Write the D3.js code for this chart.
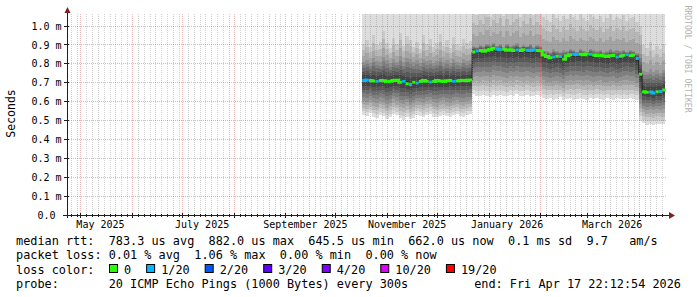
<!DOCTYPE html>
<html><head><meta charset="utf-8">
<script src="https://cdn.jsdelivr.net/npm/d3@7"></script>
<style>
html,body{margin:0;padding:0;background:#fff;}
svg text{font-family:"DejaVu Sans Mono",monospace;white-space:pre;fill:#000;}
</style></head><body>
<svg id="c" width="697" height="297" xmlns="http://www.w3.org/2000/svg" xml:space="preserve"></svg>
<script>
// ---------------- data ----------------
const END_TIME = Date.UTC(2026, 3, 17, 22, 12, 54);
const SPAN_DAYS = 360;
const DATA_START = Date.UTC(2025, 9, 17);
const STEP_DAYS = 2;

const medianUs = [712,714,711,709,708,712,710,705,708,711,713,702,708,695,690,703,699,706,711,708,704,707,712,709,706,710,712,708,709,712,713,710,714,
 862,868,870,866,872,876,882,878,874,877,872,875,870,873,871,874,872,870,873,871,869,
 846,838,832,836,840,838,824,842,848,850,849,851,848,852,850,846,843,845,841,838,842,844,836,840,845,848,843,846,828,
 745,652,650,651,646,652,653,662];
const lossCount = [1,1,0,0,1,0,0,0,0,0,0,0,1,0,1,0,1,0,0,0,1,0,0,0,0,0,0,1,0,0,0,0,0,
 0,1,0,0,0,0,0,1,1,0,0,0,0,1,0,0,1,1,1,0,0,
 0,0,0,1,0,1,0,0,0,1,1,0,0,0,1,0,0,0,0,0,0,0,1,0,0,1,0,0,1,
 0,0,0,1,1,0,1,0];
const pingMinUs = [530,525,538,520,515,528,522,510,518,535,527,512,505,520,508,515,530,524,518,527,533,521,516,525,531,522,519,528,534,526,520,529,532,
 640,632,628,635,630,626,633,629,636,631,627,634,630,638,632,629,635,631,628,633,630,
 618,612,620,610,615,622,608,614,619,611,616,621,613,609,617,612,620,615,611,618,614,610,619,613,616,612,618,615,611,
 500,485,478,482,476,484,480,479];
const ping5Us = [605,598,610,596,592,604,600,588,594,612,603,590,585,596,580,590,602,598,594,604,608,596,592,601,606,598,595,603,608,600,597,605,607,
 728,735,732,738,734,728,740,733,737,730,726,735,729,738,732,728,736,731,726,734,730,
 712,706,702,708,710,704,696,709,714,711,716,713,708,715,711,706,710,713,705,703,708,711,702,707,712,714,709,711,699,
 585,562,556,560,554,561,558,563];
const ping16Us = [812,820,805,830,815,808,836,818,802,826,812,840,808,832,825,810,818,804,828,813,822,806,815,830,809,820,803,826,812,806,824,815,818,
 895,890,902,893,905,898,910,896,903,888,906,892,899,908,890,901,895,904,889,897,893,
 870,866,862,878,868,860,874,866,880,872,864,876,869,865,878,871,867,874,862,870,877,866,872,868,875,863,871,869,858,
 850,762,758,770,756,765,752,768];
const ping19Us = [905,925,890,950,900,915,975,910,885,935,905,965,895,945,925,890,915,880,955,905,930,890,910,960,895,925,885,940,905,895,930,910,920,
 1080,1060,1100,1070,1120,1050,1090,1075,1110,1055,1105,1065,1085,1100,1050,1090,1070,1110,1060,1080,1065,
 1050,1030,1020,1070,1040,1025,1055,1035,1075,1045,1030,1065,1040,1025,1070,1045,1035,1055,1020,1040,1065,1030,1050,1035,1060,1025,1040,1050,1020,
 1000,900,885,915,875,895,880,905];
const pingMaxUs = [1250,1320,1180,1400,1220,1290,1450,1260,1150,1350,1230,1420,1200,1380,1310,1190,1280,1160,1370,1240,1330,1170,1260,1410,1210,1300,1180,1360,1240,1200,1320,1260,1290,
 1500,1450,1520,1480,1550,1460,1510,1490,1530,1470,1540,1480,1500,1520,1460,1510,1490,1530,1470,1500,1480,
 1450,1420,1400,1480,1440,1410,1460,1430,1490,1450,1420,1470,1440,1410,1480,1450,1430,1460,1400,1440,1470,1420,1450,1430,1460,1410,1440,1450,1400,
 1500,1250,1220,1280,1200,1260,1230,1270];

const yTicks = [0,0.1,0.2,0.3,0.4,0.5,0.6,0.7,0.8,0.9,1.0];
const Y_MAX = 1.0635;
const monthLabelDates = ["2025-05-13","2025-07-13","2025-09-13","2025-11-13","2026-01-12","2026-03-16"];
const lossThresholds = [0,1,2,3,4,10,19];
const lossLabels = ["0","1/20","2/20","3/20","4/20","10/20","19/20"];
const lossColors = ["#26ff00","#00b8ff","#0059ff","#5e00ff","#7e00ff","#dd00ff","#ff0000"];
const legendRows = [
 "median rtt:  783.3 us avg  882.0 us max  645.5 us min  662.0 us now  0.1 ms sd  9.7   am/s",
 "packet loss: 0.01 % avg  1.06 % max  0.00 % min  0.00 % now",
 "loss color:",
 "probe:       20 ICMP Echo Pings (1000 Bytes) every 300s"
];
const endText = "end: Fri Apr 17 22:12:54 2026";

// ---------------- drawing ----------------
const DAY = 864e5;
const START_TIME = END_TIME - SPAN_DAYS*DAY;
const svg = d3.select("#c");
const X0 = 67, X1 = 667, YB = 215, YT = 14;
const x = d3.scaleUtc().domain([START_TIME, END_TIME]).range([X0, X1]);
const y = d3.scaleLinear().domain([0, Y_MAX]).range([YB, YT]);

svg.append("defs").append("clipPath").attr("id","plot")
  .append("rect").attr("x",X0).attr("y",YT).attr("width",X1-X0).attr("height",YB-YT);

const cols = medianUs.map((m,k)=>({
  t0: DATA_START + k*STEP_DAYS*DAY,
  t1: DATA_START + (k+1)*STEP_DAYS*DAY,
  med: m/1000, loss: lossCount[k],
  anchors: [[1,pingMinUs[k]/1000],[5,ping5Us[k]/1000],[10.5,m/1000],[16,ping16Us[k]/1000],[19,ping19Us[k]/1000],[20,pingMaxUs[k]/1000]]
}));
function ping(c,p){
  const a=c.anchors;
  for(let i=0;i<a.length-1;i++){
    if(p<=a[i+1][0]){const f=(p-a[i][0])/(a[i+1][0]-a[i][0]);return a[i][1]+f*(a[i+1][1]-a[i][1]);}
  }
  return a[a.length-1][1];
}
const plot = svg.append("g").attr("clip-path","url(#plot)");
const smoke = plot.append("g").attr("shape-rendering","crispEdges");
for(let b=1;b<=10;b++){
  const g = Math.floor(190/10*(10-b))+50;
  const col = d3.rgb(g,g,g).formatHex();
  smoke.selectAll(null).data(cols).join("rect")
    .attr("x",d=>Math.round(x(d.t0)))
    .attr("width",d=>Math.round(Math.min(x(d.t1),X1))-Math.round(x(d.t0)))
    .attr("y",d=>y(ping(d,21-b)))
    .attr("height",d=>Math.max(0,y(ping(d,b))-y(ping(d,21-b))))
    .attr("fill",col);
}

// grid (drawn on top)
const grid = svg.append("g").attr("clip-path","url(#plot)");
const months = d3.utcMonth.range(d3.utcMonth.floor(START_TIME), END_TIME+1);
const minorTimes = [];
months.forEach(m=>{
  const next = d3.utcMonth.offset(m,1).getTime();
  for(let k=1;k<=8;k++){const t=m.getTime()+k*3.5*DAY; if(t<next-DAY) minorTimes.push(t);}
});
const px = v=>Math.round(v)+0.5;
grid.selectAll(".minor").data(minorTimes.filter(t=>t>START_TIME&&t<END_TIME)).join("line")
  .attr("x1",d=>px(x(d))).attr("x2",d=>px(x(d))).attr("y1",YT).attr("y2",YB)
  .attr("stroke","rgba(143,143,143,0.42)").attr("stroke-dasharray","1,1");
const majorTimes = months.filter(m=>m.getTime()>START_TIME);
grid.selectAll(".major").data(majorTimes).join("line")
  .attr("x1",d=>px(x(d))).attr("x2",d=>px(x(d))).attr("y1",YT).attr("y2",YB)
  .attr("stroke","rgba(222,79,79,0.42)").attr("stroke-dasharray","1,1");
grid.selectAll(".hg").data(yTicks.filter(v=>v>0)).join("line")
  .attr("x1",X0).attr("x2",X1).attr("y1",d=>px(y(d)-0.5)).attr("y2",d=>px(y(d)-0.5))
  .attr("stroke","rgba(222,79,79,0.45)").attr("stroke-dasharray","1,1");

// median line
const lineG = plot.append("g");
let dark = "";
cols.forEach((c,k)=>{
  const xa=x(c.t0), xb=Math.min(x(c.t1),X1), yy=y(c.med);
  dark += (k===0?`M${xa},${yy}`:`V${yy}`)+`H${xb}`;
});
lineG.append("path").attr("d",dark).attr("fill","none").attr("stroke","#202020").attr("stroke-width",1);
function lossIdx(l){let i=0;lossThresholds.forEach((th,j)=>{if(l>=th)i=j;});return i;}
lossColors.forEach((color,ci)=>{
  let d="";
  cols.forEach((c,k)=>{
    if(lossIdx(c.loss)!==ci) return;
    const xa=x(c.t0), xb=Math.min(x(c.t1),X1), yy=y(c.med);
    const prevSame = k>0 && lossIdx(cols[k-1].loss)===ci && Math.abs(y(cols[k-1].med)-yy)<6;
    d += (prevSame?`V${yy}`:`M${xa},${yy}`)+`H${xb}`;
  });
  if(d) lineG.append("path").attr("d",d).attr("fill","none").attr("stroke",color).attr("stroke-width",3);
});

// axes
const axis = svg.append("g").attr("stroke","#1f1f1f").attr("shape-rendering","crispEdges");
axis.append("line").attr("x1",X0+0.5).attr("x2",X0+0.5).attr("y1",YB+3).attr("y2",10);
axis.append("line").attr("x1",X0-4).attr("x2",X1+3).attr("y1",YB+0.5).attr("y2",YB+0.5);
axis.selectAll(".yt").data(yTicks).join("line")
  .attr("x1",X0-3).attr("x2",X0+2).attr("y1",d=>px(y(d)-0.5)).attr("y2",d=>px(y(d)-0.5));
axis.selectAll(".xt").data(majorTimes).join("line")
  .attr("x1",d=>px(x(d))).attr("x2",d=>px(x(d))).attr("y1",YB-2).attr("y2",YB+3);
axis.selectAll(".xm").data(minorTimes.filter(t=>t>START_TIME&&t<END_TIME)).join("line")
  .attr("x1",d=>px(x(d))).attr("x2",d=>px(x(d))).attr("y1",YB-1).attr("y2",YB+2);
svg.append("path").attr("d",`M${X0-2.5},13L${X0+3.5},13L${X0+0.5},7Z`).attr("fill","#801f1f");
svg.append("path").attr("d",`M${X1+2},212L${X1+2},219L${X1+8},215.5Z`).attr("fill","#801f1f");

// y labels
svg.selectAll(".yl").data(yTicks).join("text")
  .attr("x",d=>d===0?61.5-6.02:61.5).attr("y",d=>y(d)+3.6)
  .attr("text-anchor","end").attr("font-size","10px")
  .text(d=>d===0?"0.0":d.toFixed(1)+" m");
// x labels
const parseD = d3.utcParse("%Y-%m-%d"), fmt = d3.utcFormat("%B %Y");
svg.selectAll(".xl").data(monthLabelDates.map(parseD)).join("text")
  .attr("x",d=>x(d)).attr("y",228).attr("text-anchor","middle").attr("font-size","10px")
  .text(d=>fmt(d));
// titles
svg.append("text").attr("transform","translate(15,113.5) rotate(-90)").attr("text-anchor","middle")
  .attr("font-size","11.5px").text("Seconds");
svg.append("text").attr("transform","translate(685,59) rotate(90)").attr("text-anchor","middle")
  .attr("font-size","8.1px").style("fill","#b3b3b3").text("RRDTOOL / TOBI OETIKER");

// legend
const LF = "11.85px";
legendRows.forEach((r,i)=>{
  svg.append("text").attr("x",16).attr("y",244.5+i*14.5).attr("font-size",LF).text(r);
});
svg.append("text").attr("x",681).attr("y",244.5+3*14.5).attr("font-size",LF).attr("text-anchor","end").text(endText);
let lx = 109;
lossLabels.forEach((lab,i)=>{
  svg.append("rect").attr("x",lx+0.5).attr("y",264.5).attr("width",8).attr("height",8)
    .attr("fill",lossColors[i]).attr("stroke","#000").attr("stroke-width",1);
  const t = svg.append("text").attr("x",lx+15).attr("y",244.5+2*14.5).attr("font-size",LF).text(lab);
  lx = lx + 15 + t.node().getComputedTextLength() + 15;
});
</script>
</body></html>
